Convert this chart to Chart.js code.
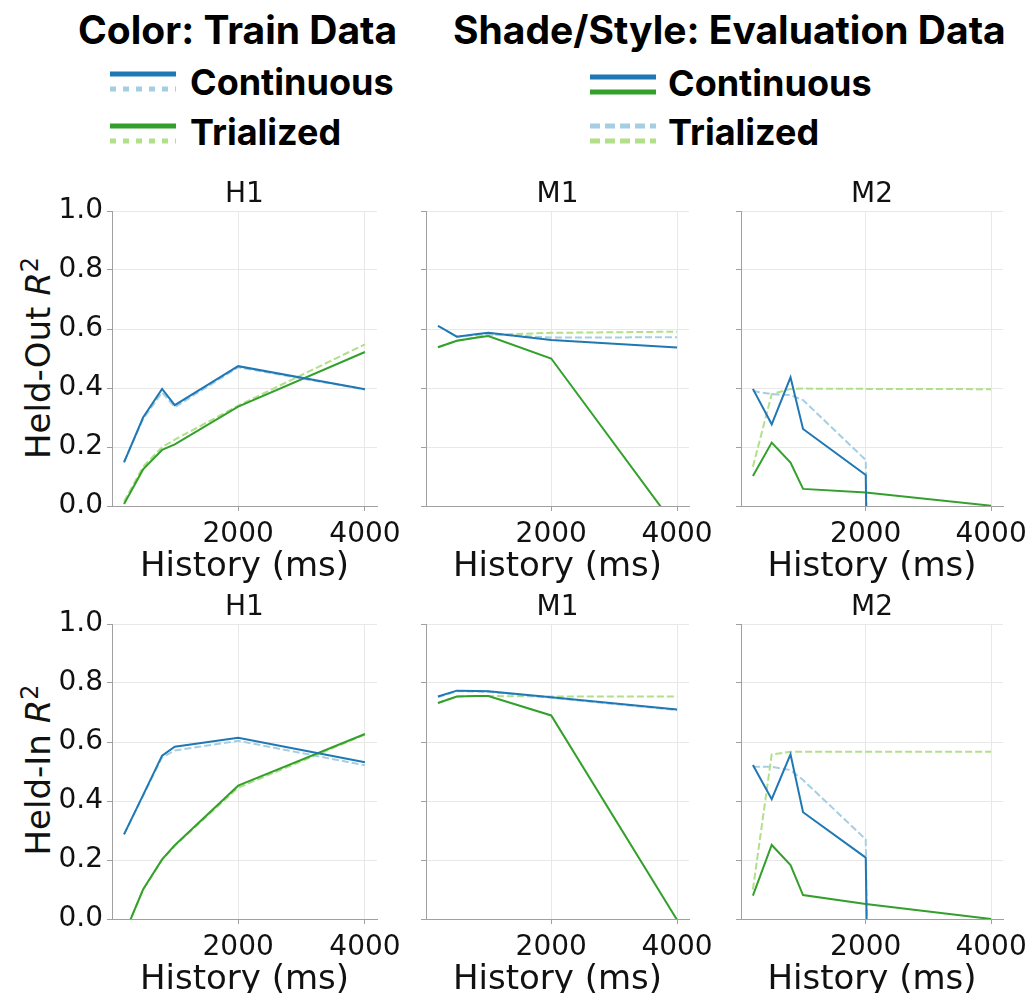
<!DOCTYPE html>
<html>
<head>
<meta charset="utf-8">
<script src="https://cdn.jsdelivr.net/npm/chart.js@4.4.1/dist/chart.umd.min.js"></script>
<style>
  body { margin: 0; background: #fff; }
  #fig { position: relative; width: 1030px; height: 993px; overflow: hidden; }
  .hdr, .item {
    position: absolute; font-family: Inter, "Liberation Sans", sans-serif; font-weight: 700;
    color: #000; white-space: nowrap;
  }
  .hdr { font-size: 39px; line-height: 39px; }
  .item { font-size: 36px; line-height: 36px; }
  .sw { position: absolute; }
  .ylab {
    position: absolute; font-family: "DejaVu Sans", sans-serif; font-size: 34px; line-height: 34px;
    color: #111; white-space: nowrap; transform: translate(-50%, -50%) rotate(-90deg);
  }
  .ylab sup { font-size: 24px; line-height: 0; }
  canvas.panel { position: absolute; }
</style>
</head>
<body>
<div id="fig">
  <div class="hdr" style="left:78px; top:10px">Color: Train Data</div>
  <div class="hdr" style="left:453px; top:10px">Shade/Style: Evaluation Data</div>

  <svg class="sw" style="left:110px; top:60px" width="66" height="90">
    <line x1="0" y1="14" x2="66" y2="14" stroke="#1f78b4" stroke-width="5"/>
    <line x1="0" y1="29" x2="66" y2="29" stroke="#a6cee3" stroke-width="5" stroke-dasharray="6 7"/>
    <line x1="0" y1="66" x2="66" y2="66" stroke="#33a02c" stroke-width="5"/>
    <line x1="0" y1="81" x2="66" y2="81" stroke="#b2df8a" stroke-width="5" stroke-dasharray="6 7"/>
  </svg>
  <div class="item" style="left:190px; top:64px">Continuous</div>
  <div class="item" style="left:190px; top:114px">Trialized</div>

  <svg class="sw" style="left:590px; top:60px" width="66" height="90">
    <line x1="0" y1="17" x2="66" y2="17" stroke="#1f78b4" stroke-width="5"/>
    <line x1="0" y1="32" x2="66" y2="32" stroke="#33a02c" stroke-width="5"/>
    <line x1="0" y1="66" x2="66" y2="66" stroke="#a6cee3" stroke-width="5" stroke-dasharray="10 5"/>
    <line x1="0" y1="81" x2="66" y2="81" stroke="#b2df8a" stroke-width="5" stroke-dasharray="10 5"/>
  </svg>
  <div class="item" style="left:668px; top:65px">Continuous</div>
  <div class="item" style="left:668px; top:114px">Trialized</div>

  <div class="ylab" style="left:38px; top:358px">Held-Out <i>R</i><sup>2</sup></div>
  <div class="ylab" style="left:38px; top:770px">Held-In <i>R</i><sup>2</sup></div>
</div>

<script>
// history lengths (ms) shared by every panel
const historyMs = [200, 500, 800, 1000, 2000, 4000];
const panelTitles = ["H1", "M1", "M2"];

// held-out R2 : train -> eval
const outH1_contCont = [0.148, 0.300, 0.397, 0.342, 0.474, 0.396];
const outH1_contTrial = [0.150, 0.295, 0.385, 0.335, 0.470, 0.395];
const outH1_trialCont = [0.007, 0.124, 0.190, 0.209, 0.337, 0.522];
const outH1_trialTrial = [0.015, 0.133, 0.200, 0.225, 0.340, 0.548];

const outM1_contCont = [0.611, 0.574, 0.582, 0.587, 0.563, 0.537];
const outM1_contTrial = [0.610, 0.574, 0.580, 0.583, 0.571, 0.572];
const outM1_trialCont = [0.538, 0.560, 0.570, 0.576, 0.500, -0.077];
const outM1_trialTrial = [0.538, 0.560, 0.572, 0.580, 0.587, 0.591];

const outM2_contCont = [0.397, 0.277, 0.436, 0.261, 0.105, -30];
const outM2_contTrial = [0.390, 0.379, 0.376, 0.359, 0.156, -30];
const outM2_trialCont = [0.102, 0.215, 0.147, 0.058, 0.046, 0.001];
const outM2_trialTrial = [0.133, 0.379, 0.397, 0.398, 0.397, 0.396];

// held-in R2
const inH1_contCont = [0.287, 0.420, 0.554, 0.584, 0.614, 0.531];
const inH1_contTrial = [0.287, 0.418, 0.548, 0.571, 0.604, 0.521];
const inH1_trialCont = [-0.054, 0.100, 0.202, 0.250, 0.452, 0.627];
const inH1_trialTrial = [-0.054, 0.100, 0.200, 0.248, 0.445, 0.625];

const inM1_contCont = [0.754, 0.774, 0.773, 0.772, 0.752, 0.710];
const inM1_contTrial = [0.752, 0.772, 0.771, 0.770, 0.750, 0.708];
const inM1_trialCont = [0.732, 0.754, 0.756, 0.756, 0.690, -0.003];
const inM1_trialTrial = [0.732, 0.754, 0.756, 0.756, 0.754, 0.754];

const inM2_contCont = [0.522, 0.406, 0.558, 0.362, 0.208, -30];
const inM2_contTrial = [0.516, 0.516, 0.505, 0.471, 0.270, -30];
const inM2_trialCont = [0.079, 0.251, 0.183, 0.081, 0.051, 0.000];
const inM2_trialTrial = [0.100, 0.558, 0.567, 0.567, 0.567, 0.567];

const yTicks = [0, 0.2, 0.4, 0.6, 0.8, 1.0];
const xTicks = [2000, 4000];

const panels = [
  [outH1_contCont, outH1_contTrial, outH1_trialCont, outH1_trialTrial],
  [outM1_contCont, outM1_contTrial, outM1_trialCont, outM1_trialTrial],
  [outM2_contCont, outM2_contTrial, outM2_trialCont, outM2_trialTrial],
  [inH1_contCont, inH1_contTrial, inH1_trialCont, inH1_trialTrial],
  [inM1_contCont, inM1_contTrial, inM1_trialCont, inM1_trialTrial],
  [inM2_contCont, inM2_contTrial, inM2_trialCont, inM2_trialTrial],
];

// plot area boxes in page pixels
const colLeft = [112, 426, 741];
const colWidth = [265, 263, 262];
const rowTop = [211, 624];
const plotH = 295;
const padL = 70, padT = 45, padR = 45, padB = 85;

const tickFont = { family: "DejaVu Sans", size: 28 };
const ink = "#111";

const pts = (vals) => vals.map((v, i) => ({ x: historyMs[i], y: v }));

function makePanel(idx) {
  const row = Math.floor(idx / 3), col = idx % 3;
  const [cc, ct, tc, tt] = panels[idx];
  const canvas = document.createElement("canvas");
  canvas.className = "panel";
  canvas.width = padL + colWidth[col] + padR;
  canvas.height = padT + plotH + padB;
  canvas.style.left = colLeft[col] - padL + "px";
  canvas.style.top = rowTop[row] - padT + "px";
  document.getElementById("fig").appendChild(canvas);

  // solid lines first so they are drawn on top
  const datasets = [
    { data: pts(cc), borderColor: "#1f78b4", borderWidth: 2 },
    { data: pts(tc), borderColor: "#33a02c", borderWidth: 2 },
    { data: pts(ct), borderColor: "#a6cee3", borderWidth: 2, borderDash: [7, 3] },
    { data: pts(tt), borderColor: "#b2df8a", borderWidth: 2, borderDash: [7, 3] },
  ];

  new Chart(canvas, {
    type: "line",
    data: { datasets },
    options: {
      responsive: false,
      animation: false,
      layout: { padding: { left: 0, top: 0, right: padR, bottom: 0 } },
      elements: { point: { radius: 0 }, line: { tension: 0 } },
      plugins: {
        legend: { display: false },
        tooltip: { enabled: false },
        title: {
          display: true,
          text: panelTitles[col],
          fullSize: false,
          color: ink,
          font: { family: "DejaVu Sans", size: 28, weight: "normal", lineHeight: 1 },
          padding: { top: 15, bottom: 2 },
        },
      },
      scales: {
        x: {
          type: "linear",
          min: 10,
          max: 4190,
          afterBuildTicks: (s) => { s.ticks = xTicks.map((v) => ({ value: v })); },
          afterFit: (s) => { s.height = padB; },
          ticks: {
            font: tickFont,
            color: ink,
            padding: 7,
            maxRotation: 0,
            autoSkip: false,
            callback: (v) => String(v),
          },
          grid: { color: "#e8e8e8", tickColor: "#a0a0a0", tickLength: 5 },
          border: { color: "#a0a0a0", width: 1 },
          title: {
            display: true,
            text: "History (ms)",
            color: ink,
            font: { family: "DejaVu Sans", size: 34 },
            padding: { top: 0, bottom: 3 },
          },
        },
        y: {
          min: 0,
          max: 1,
          afterBuildTicks: (s) => { s.ticks = yTicks.map((v) => ({ value: v })); },
          afterFit: (s) => { s.width = padL; },
          ticks: {
            font: tickFont,
            color: ink,
            padding: 4,
            callback: (v) => (col === 0 ? v.toFixed(1) : ""),
          },
          grid: { color: "#e8e8e8", tickColor: "#a0a0a0", tickLength: 5 },
          border: { color: "#a0a0a0", width: 1 },
        },
      },
    },
  });
}

for (let i = 0; i < panels.length; i++) makePanel(i);
</script>
</body>
</html>
